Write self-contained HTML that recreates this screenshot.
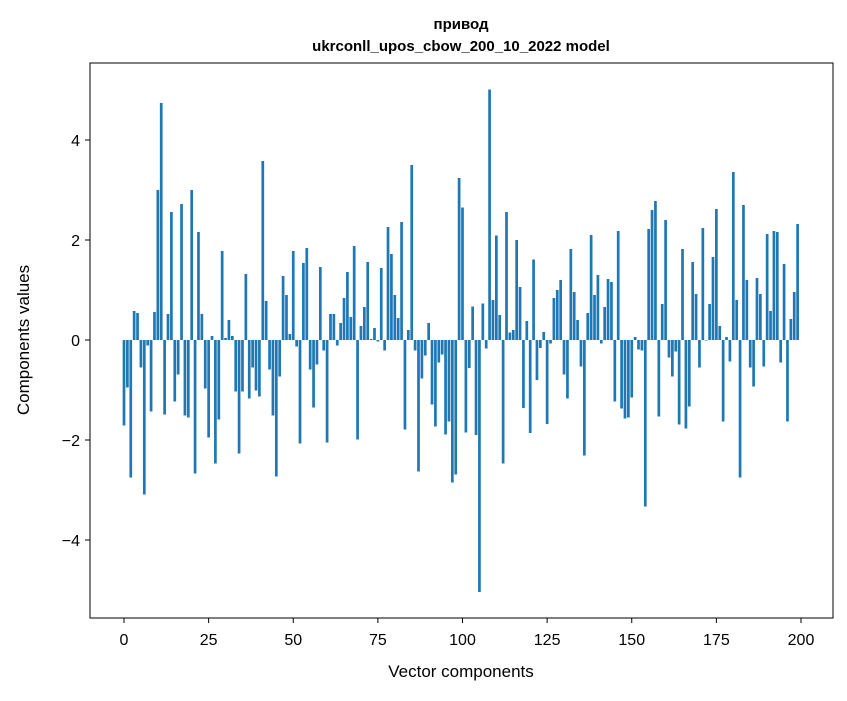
<!DOCTYPE html>
<html><head><meta charset="utf-8"><style>
body{margin:0;background:#fff}
svg text{font-family:"Liberation Sans","DejaVu Sans",sans-serif}
</style></head><body>
<svg id="chart" width="847" height="696" xmlns="http://www.w3.org/2000/svg">
<rect width="847" height="696" fill="#fff"/>
<text x="461" y="29" text-anchor="middle" font-size="15" font-weight="bold">привод</text>
<text x="461" y="51" text-anchor="middle" font-size="15" font-weight="bold">ukrconll_upos_cbow_200_10_2022 model</text>
<g id="bars"></g>
<g id="axes"></g>
<rect x="90" y="63" width="743" height="555" fill="none" stroke="#000" stroke-width="1"/>
<text x="461" y="677" text-anchor="middle" font-size="17">Vector components</text>
<text transform="translate(29,340) rotate(-90)" text-anchor="middle" font-size="17">Components values</text>
</svg>
<script>
const values = [
-1.71,-0.95,-2.75,0.58,0.54,-0.55,-3.09,-0.11,-1.43,0.56,
3.0,4.74,-1.49,0.52,2.56,-1.23,-0.69,2.72,-1.51,-1.55,
3.0,-2.67,2.16,0.52,-0.97,-1.95,0.08,-2.47,-1.59,1.78,
0.04,0.4,0.08,-1.03,-2.27,-1.03,1.32,-1.17,-0.55,-1.01,
-1.13,3.58,0.78,-0.59,-1.51,-2.73,-0.73,1.28,0.9,0.12,
1.78,-0.13,-2.07,1.54,1.84,-0.59,-1.35,-0.49,1.46,-0.21,
-2.05,0.52,0.52,-0.11,0.34,0.84,1.36,0.46,1.88,-1.99,
0.28,0.66,1.56,0.02,0.24,-0.03,1.44,-0.21,2.26,1.72,
0.9,0.44,2.36,-1.79,0.2,3.5,-0.21,-2.63,-0.77,-0.31,
0.34,-1.29,-1.73,-0.45,-0.29,-1.89,-1.63,-2.85,-2.69,3.24,
2.65,-1.85,-0.56,0.67,-1.9,-5.04,0.73,-0.17,5.01,0.8,
2.09,0.5,-2.47,2.56,0.15,0.2,2.0,1.06,-1.36,0.38,
-1.86,1.61,-0.8,-0.16,0.16,-1.68,-0.07,0.84,1.0,1.2,
-0.69,-1.17,1.82,0.96,0.4,-0.53,-2.31,0.54,2.1,0.9,
1.3,-0.07,0.66,1.22,1.16,-1.23,2.18,-1.37,-1.57,-1.55,
-1.15,0.06,-0.19,-0.21,-3.33,2.22,2.6,2.78,-1.53,0.72,
2.4,-0.35,-0.73,-0.23,-1.69,1.82,-1.77,-1.33,1.56,0.92,
-0.55,2.24,-0.01,0.72,1.66,2.62,0.28,-1.63,0.06,-0.43,
3.36,0.8,-2.75,2.7,1.2,-0.55,-0.93,1.24,0.92,-0.53,
2.12,0.58,2.18,2.16,-0.45,1.52,-1.63,0.42,0.96,2.32];
const xTicks = [0,25,50,75,100,125,150,175,200];
const yTicks = [-4,-2,0,2,4];
const yTickLabels = ["\u22124","\u22122","0","2","4"];

const NS="http://www.w3.org/2000/svg";
function xs(v){return 124+v*3.385;}
function ys(v){return 340-v*50;}
const bars=document.getElementById('bars');
values.forEach((v,i)=>{
  const r=document.createElementNS(NS,'rect');
  
  
  const x0=xs(i-0.4), x1=xs(i+0.4);
  r.setAttribute('x',x0);r.setAttribute('width',x1-x0);
  r.setAttribute('y',Math.min(ys(v),ys(0)));
  r.setAttribute('height',Math.abs(ys(v)-ys(0)));
  r.setAttribute('fill','#1f77b4');
  bars.appendChild(r);
});
const axes=document.getElementById('axes');
xTicks.forEach(t=>{
  const l=document.createElementNS(NS,'line');
  
  
  l.setAttribute('x1',xs(t));l.setAttribute('x2',xs(t));
  l.setAttribute('y1',618);l.setAttribute('y2',623);l.setAttribute('stroke','#000');
  axes.appendChild(l);
  const tx=document.createElementNS(NS,'text');
  
  
  tx.setAttribute('x',xs(t));tx.setAttribute('y',645);
  tx.setAttribute('text-anchor','middle');tx.setAttribute('font-size','16');
  tx.textContent=t;axes.appendChild(tx);
});
yTicks.forEach((t,i)=>{
  const l=document.createElementNS(NS,'line');
  
  
  l.setAttribute('x1',85);l.setAttribute('x2',90);
  l.setAttribute('y1',ys(t));l.setAttribute('y2',ys(t));l.setAttribute('stroke','#000');
  axes.appendChild(l);
  const tx=document.createElementNS(NS,'text');
  
  
  tx.setAttribute('x',80);tx.setAttribute('y',ys(t)+6);
  tx.setAttribute('text-anchor','end');tx.setAttribute('font-size','16');
  tx.textContent=yTickLabels[i];axes.appendChild(tx);
});
</script>
</body></html>
